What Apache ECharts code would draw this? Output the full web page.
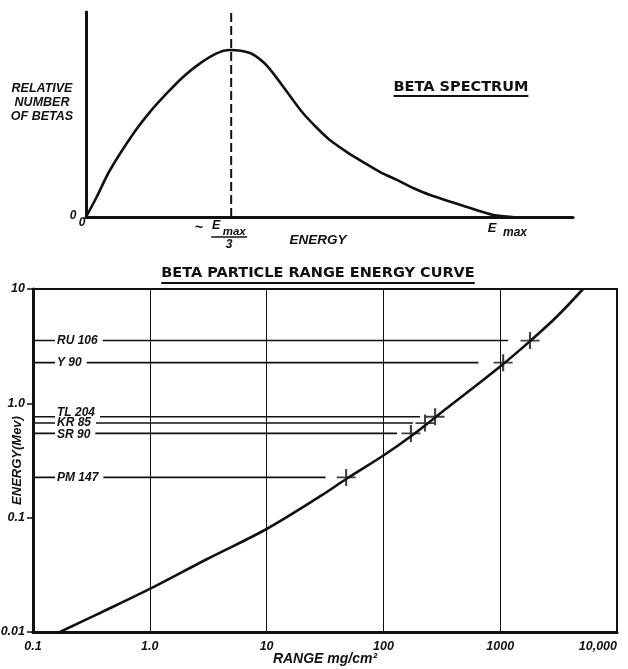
<!DOCTYPE html>
<html>
<head>
<meta charset="utf-8">
<script src="https://cdn.jsdelivr.net/npm/echarts@6/dist/echarts.min.js"></script>
<style>
  html, body { margin: 0; padding: 0; background: #fff; }
  #main { width: 628px; height: 669px; }
</style>
</head>
<body>
<div id="main"></div>
<script>
// Beta spectrum: energy in units of E max, number of betas relative to the peak
const spectrumEnergy = [0, 0.025, 0.056, 0.111, 0.15, 0.189, 0.228, 0.267, 0.306, 0.337, 0.384, 0.415, 0.438, 0.471, 0.508, 0.541, 0.571, 0.611, 0.649, 0.689, 0.728, 0.766, 0.806, 0.892, 0.954, 1.0];
const spectrumCount  = [0, 0.12, 0.28, 0.50, 0.63, 0.74, 0.84, 0.92, 0.98, 1.0, 0.982, 0.928, 0.862, 0.749, 0.623, 0.533, 0.461, 0.389, 0.329, 0.269, 0.222, 0.174, 0.132, 0.06, 0.012, 0];
const peakEnergy = 0.34;

// Range–energy curve: range in mg/cm², energy in MeV
const curveRange  = [0.17, 0.35, 1, 3.1, 10, 30, 48, 100, 172, 351, 1000, 1800, 3060, 5120];
const curveEnergy = [0.01, 0.0142, 0.0238, 0.0435, 0.0796, 0.158, 0.218, 0.35, 0.515, 0.91, 2.1, 3.5, 5.75, 10];

// Isotopes marked on the curve
const isotopeNames  = ['RU 106', 'Y 90', 'TL 204', 'KR 85', 'SR 90', 'PM 147'];
const isotopeEnergy = [3.54, 2.27, 0.763, 0.672, 0.546, 0.225];
const isotopeRange  = [1800, 1060, 277, 227, 172, 48];
const leaderEnd     = [1170, 650, 206, 179, 131, 32];

// Tick labels, one per decade
const rangeTickLabels  = ['0.1', '1.0', '10', '100', '1000', '10,000'];
const energyTickLabels = ['0.01', '0.1', '1.0', '10'];

const INK = '#111';
const LABEL_FAMILY = '"Liberation Sans", Arial, sans-serif';
const TITLE_FAMILY = '"DejaVu Sans", sans-serif';
const labelFont = (size) => `italic bold ${size}px ${LABEL_FAMILY}`;
const labelStyle = (size) => ({ color: INK, fontFamily: LABEL_FAMILY, fontStyle: 'italic', fontWeight: 'bold', fontSize: size });

const chart = echarts.init(document.getElementById('main'));
const zip = (a, b) => a.map((v, i) => [v, b[i]]);
const decadeLabel = (labels, minExp) => (v) => {
  const s = labels[Math.round(Math.log10(v)) - minExp];
  return s === undefined ? '' : s;
};
const plusSymbol = 'path://M0,8.9L20,8.9L20,11.1L0,11.1Z M8.9,0L11.1,0L11.1,20L8.9,20Z';

const baseSeries = [
  { // beta spectrum
    type: 'line', xAxisIndex: 0, yAxisIndex: 0,
    data: zip(spectrumEnergy, spectrumCount),
    smooth: 0.3, showSymbol: false,
    lineStyle: { color: INK, width: 2.6 }
  },
  { // dashed line through the peak
    type: 'line', xAxisIndex: 0, yAxisIndex: 0,
    data: [[peakEnergy, 0], [peakEnergy, 1.228]],
    showSymbol: false,
    lineStyle: { color: INK, width: 2, type: [9, 4] }
  },
  { // range–energy curve
    type: 'line', xAxisIndex: 1, yAxisIndex: 1,
    data: zip(curveRange, curveEnergy),
    smooth: 0.35, showSymbol: false,
    lineStyle: { color: INK, width: 2.6 }
  },
  { // isotope crosses on the curve
    type: 'scatter', xAxisIndex: 1, yAxisIndex: 1,
    data: zip(isotopeRange, isotopeEnergy),
    symbol: plusSymbol, symbolSize: [19, 17],
    itemStyle: { color: INK }, z: 5
  }
];

chart.setOption({
  animation: false,
  backgroundColor: '#fff',
  grid: [
    { left: 86, top: 12, width: 487, height: 205, outerBoundsMode: 'none', containLabel: false },
    { left: 33, top: 289, width: 584, height: 343, outerBoundsMode: 'none', containLabel: false,
      show: true, borderColor: INK, borderWidth: 2 }
  ],
  xAxis: [
    {
      gridIndex: 0, type: 'value', min: 0, max: 1.1405,
      axisLine: { show: true, lineStyle: { color: INK, width: 3 } },
      axisTick: { show: false }, axisLabel: { show: false }, splitLine: { show: false }
    },
    {
      gridIndex: 1, type: 'log', logBase: 10, min: 0.1, max: 10000,
      axisLine: { show: true, onZero: false, lineStyle: { color: INK, width: 3 } },
      axisTick: { show: false },
      axisLabel: { formatter: decadeLabel(rangeTickLabels, -1), margin: 8, alignMaxLabel: 'right', ...labelStyle(12.5) },
      splitLine: { show: true, lineStyle: { color: INK, width: 1 } },
      name: 'RANGE mg/cm²', nameLocation: 'middle', nameGap: 20, nameMoveOverlap: false,
      nameTextStyle: labelStyle(14)
    }
  ],
  yAxis: [
    {
      gridIndex: 0, type: 'value', min: 0, max: 1.228,
      axisLine: { show: true, lineStyle: { color: INK, width: 3 } },
      axisTick: { show: false }, axisLabel: { show: false }, splitLine: { show: false }
    },
    {
      gridIndex: 1, type: 'log', logBase: 10, min: 0.01, max: 10,
      axisLine: { show: true, onZero: false, lineStyle: { color: INK, width: 3 } },
      axisTick: { show: true, length: 6, lineStyle: { color: INK, width: 1.5 } },
      axisLabel: { formatter: decadeLabel(energyTickLabels, -2), margin: 8, ...labelStyle(12.5) },
      splitLine: { show: false },
      name: 'ENERGY(Mev)', nameLocation: 'middle', nameRotate: 90, nameGap: 9, nameMoveOverlap: false,
      nameTextStyle: labelStyle(13)
    }
  ],
  series: baseSeries
});

// Second pass: isotope names, leader lines broken around them, and text annotations.
const measureCtx = document.createElement('canvas').getContext('2d');
const textWidth = (text, font) => { measureCtx.font = font; return measureCtx.measureText(text).width; };

const txt = (text, x, y, font, extra) => ({
  type: 'text', x, y, z: 10,
  style: Object.assign({ text, font, fill: INK, align: 'center', verticalAlign: 'middle' }, extra || {})
});
const rule = (x1, y1, x2, y2, w) => ({
  type: 'line', z: 10,
  shape: { x1, y1, x2, y2 },
  style: { stroke: INK, lineWidth: w }
});

// The three closely spaced names are nudged apart so they do not collide.
const nameNudge = { 'TL 204': -4, 'SR 90': 1.5 };
const isoFont = labelFont(12);
const axisPx = chart.convertToPixel({ gridIndex: 1 }, [0.1, 1])[0];
const nameLeft = axisPx + 24;
const leaderSeries = [];
const graphics = [];
isotopeNames.forEach((name, i) => {
  const e = isotopeEnergy[i];
  const y = chart.convertToPixel({ gridIndex: 1 }, [0.1, e])[1];
  const w = textWidth(name, isoFont);
  const stopX = chart.convertFromPixel({ gridIndex: 1 }, [nameLeft - 2, y])[0];
  const resumeX = chart.convertFromPixel({ gridIndex: 1 }, [nameLeft + w + 5, y])[0];
  const seg = (a, b) => ({
    type: 'line', xAxisIndex: 1, yAxisIndex: 1,
    data: [[a, e], [b, e]], showSymbol: false,
    lineStyle: { color: INK, width: 1.6 }, z: 1
  });
  leaderSeries.push(seg(0.1, stopX), seg(resumeX, leaderEnd[i]));
  graphics.push(txt(name, nameLeft, y + (nameNudge[name] || 0), isoFont, { align: 'left' }));
});

const o  = chart.convertToPixel({ gridIndex: 0 }, [0, 0]);
const pk = chart.convertToPixel({ gridIndex: 0 }, [peakEnergy, 0]);
const em = chart.convertToPixel({ gridIndex: 0 }, [1, 0]);

const titleFont = `bold 14.5px ${TITLE_FAMILY}`;
const spectrumTitle = 'BETA SPECTRUM';
const rangeTitle = 'BETA PARTICLE RANGE ENERGY CURVE';
const stW = textWidth(spectrumTitle, titleFont);
const rtW = textWidth(rangeTitle, titleFont);
const stX = 461, stY = 87;
const rtX = 318, rtY = 273;

graphics.push(
  // spectrum axes annotations
  txt('RELATIVE\nNUMBER\nOF BETAS', 42, 103, labelFont(12.5), { lineHeight: 14 }),
  txt('0', o[0] - 13, o[1] - 1, labelFont(12)),
  txt('0', o[0] - 4, o[1] + 6, labelFont(12)),
  txt('~', pk[0] - 32, pk[1] + 11, `bold 14px ${LABEL_FAMILY}`),
  txt('E', pk[0] - 15, pk[1] + 9, labelFont(12.5)),
  txt('max', pk[0] + 3, pk[1] + 15, labelFont(11.5)),
  rule(pk[0] - 20, pk[1] + 20, pk[0] + 16, pk[1] + 20, 1.6),
  txt('3', pk[0] - 2, pk[1] + 28, labelFont(12)),
  txt('ENERGY', 318, 240, labelFont(13.5)),
  txt('E', em[0] - 21, em[1] + 11, labelFont(13)),
  txt('max', em[0] + 2, em[1] + 16, labelFont(12)),
  // titles with underlines
  txt(spectrumTitle, stX, stY, titleFont),
  rule(stX - stW / 2, stY + 9, stX + stW / 2, stY + 9, 2),
  txt(rangeTitle, rtX, rtY, titleFont),
  rule(rtX - rtW / 2, rtY + 10, rtX + rtW / 2, rtY + 10, 2)
);

chart.setOption({ series: baseSeries.concat(leaderSeries), graphic: graphics });
</script>
</body>
</html>
